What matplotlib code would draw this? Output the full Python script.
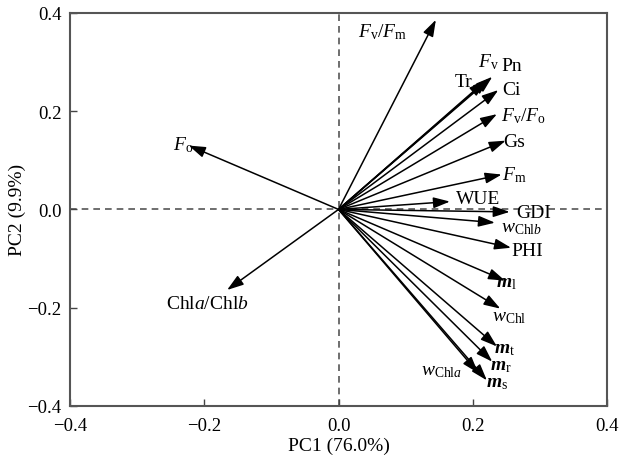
import numpy as np
import matplotlib
matplotlib.use('Agg')
import matplotlib.pyplot as plt

plt.rcParams['font.family'] = 'Liberation Serif'
plt.rcParams['mathtext.fontset'] = 'custom'
plt.rcParams['mathtext.rm'] = 'Liberation Serif'
plt.rcParams['mathtext.it'] = 'Liberation Serif:italic'
plt.rcParams['mathtext.bf'] = 'Liberation Serif:bold:italic'

# Loadings (PC1, PC2)
variables = ['Fv/Fm', 'Tr', 'Fv', 'Pn', 'Ci', 'Fv/Fo', 'Gs', 'Fm', 'WUE', 'GDI',
             'wChlb', 'PHI', 'ml', 'wChl', 'mt', 'mr', 'wChla', 'ms', 'Fo', 'Chla/Chlb']
pc1 = [0.145, 0.219, 0.224, 0.229, 0.238, 0.236, 0.249, 0.243, 0.166, 0.255,
       0.233, 0.257, 0.248, 0.241, 0.236, 0.229, 0.208, 0.221, -0.223, -0.166]
pc2 = [0.386, 0.262, 0.266, 0.270, 0.243, 0.194, 0.140, 0.071, 0.016, -0.005,
       -0.027, -0.078, -0.145, -0.202, -0.279, -0.310, -0.333, -0.348, 0.130, -0.164]

labels = [r'$F_{\mathrm{v}}/F_{\mathrm{m}}$', 'Tr', r'$F_{\mathrm{v}}$', 'Pn', 'Ci',
          r'$F_{\mathrm{v}}/F_{\mathrm{o}}$', 'Gs', r'$F_{\mathrm{m}}$', 'WUE', 'GDI',
          r'$w_{\mathrm{Chl}\mathit{b}}$', 'PHI', r'$\mathbf{m}_{\mathrm{l}}$',
          r'$w_{\mathrm{Chl}}$', r'$\mathbf{m}_{\mathrm{t}}$', r'$\mathbf{m}_{\mathrm{r}}$',
          r'$w_{\mathrm{Chl}\mathit{a}}$', r'$\mathbf{m}_{\mathrm{s}}$',
          r'$F_{\mathrm{o}}$', r'Chl$\mathit{a}$/Chl$\mathit{b}$']
label_x = [0.066, 0.186, 0.223, 0.258, 0.258, 0.276, 0.262, 0.262, 0.208, 0.291,
           0.272, 0.281, 0.250, 0.254, 0.248, 0.242, 0.154, 0.236, -0.231, -0.196]
label_y = [0.363, 0.260, 0.302, 0.292, 0.245, 0.192, 0.139, 0.072, 0.022, -0.007,
           -0.037, -0.084, -0.149, -0.218, -0.283, -0.318, -0.328, -0.352, 0.133, -0.192]

fig = plt.figure(figsize=(6.22, 4.64), dpi=100)
ax = fig.add_axes([0.1125, 0.123, 0.8635, 0.847])

ax.axhline(0, color='#555555', ls='--', lw=1.2, dashes=(4, 3), zorder=1)
ax.axvline(0, color='#555555', ls='--', lw=1.2, dashes=(4, 3), zorder=1)

for x, y in zip(pc1, pc2):
    ax.annotate('', xy=(x, y), xytext=(0, 0),
                arrowprops=dict(arrowstyle='-|>,head_length=1.0,head_width=0.33',
                                color='black', lw=1.1, shrinkA=0, shrinkB=0),
                zorder=3)

for lab, lx, ly in zip(labels, label_x, label_y):
    ax.text(lx, ly, lab, fontsize=14, ha='center', va='center', zorder=4)

ax.set_xlim(-0.4, 0.4)
ax.set_ylim(-0.4, 0.4)
ax.set_xticks([-0.4, -0.2, 0.0, 0.2, 0.4])
ax.set_yticks([-0.4, -0.2, 0.0, 0.2, 0.4])
ax.set_xticklabels(['\u22120.4', '\u22120.2', '0.0', '0.2', '0.4'])
ax.set_yticklabels(['\u22120.4', '\u22120.2', '0.0', '0.2', '0.4'])
ax.tick_params(direction='in', length=5, width=1, colors='#444444', labelsize=13.5,
               labelcolor='black')
ax.tick_params(axis='x', pad=8)
ax.tick_params(axis='y', pad=6)
ax.set_xlabel('PC1 (76.0%)', fontsize=14, labelpad=2)
ax.set_ylabel('PC2 (9.9%)', fontsize=14, labelpad=1)
for s in ax.spines.values():
    s.set_color('#555555')
    s.set_linewidth(1.5)

fig.savefig('out.png', dpi=100)
